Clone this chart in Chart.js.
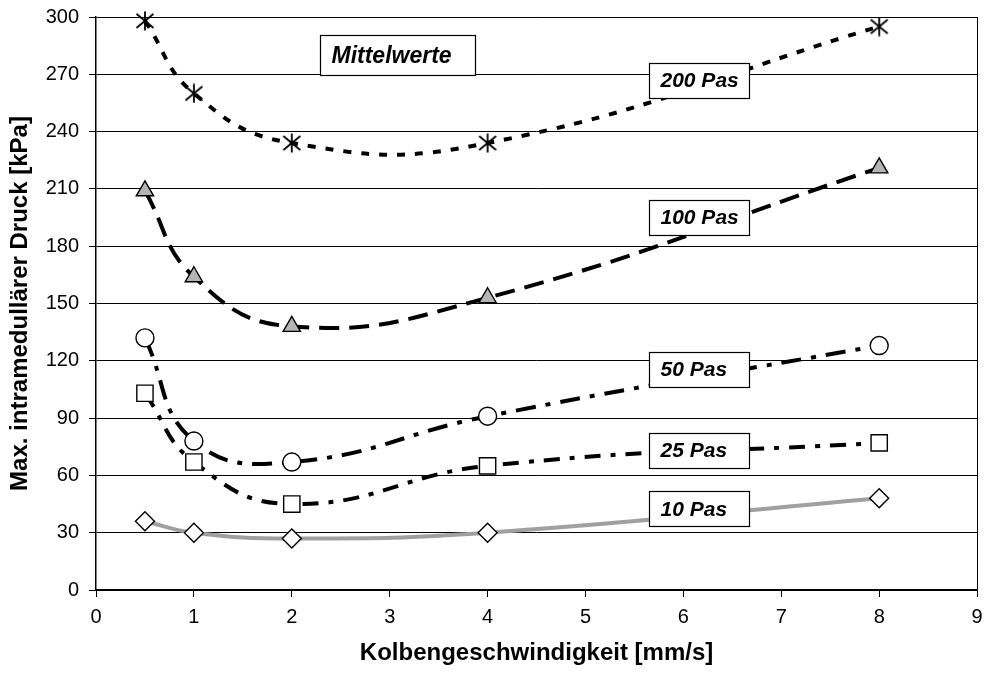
<!DOCTYPE html>
<html>
<head>
<meta charset="utf-8">
<script src="https://cdn.jsdelivr.net/npm/chart.js@4/dist/chart.umd.min.js"></script>
<style>
  html,body{margin:0;padding:0;background:#fff;}
  #wrap{width:990px;height:673px;position:relative;}
</style>
</head>
<body>
<div id="wrap"><canvas id="chart" width="990" height="673"></canvas></div>
<script>
(function(){
  // --- data ---
  const speeds = [0.5, 1, 2, 4, 8];
  const p200 = [298, 260, 234, 234, 295];
  const p100 = [209, 164, 138, 153, 221];
  const p50  = [132, 78, 67, 91, 128];
  const p25  = [103, 67, 45, 65, 77];
  const p10  = [36, 30, 27, 30, 48];
  const seriesNames = ['200 Pas', '100 Pas', '50 Pas', '25 Pas', '10 Pas'];
  const noteText = 'Mittelwerte';
  const yTicks = [0, 30, 60, 90, 120, 150, 180, 210, 240, 270, 300];
  const xTicks = [0, 1, 2, 3, 4, 5, 6, 7, 8, 9];

  const font = 'Arial, "Liberation Sans", sans-serif';
  const pts = arr => arr.map((v,i)=>({ x: speeds[i], y: v }));

  // asterisk marker
  function asterisk(){
    const c = document.createElement('canvas'); c.width = 20; c.height = 20;
    const g = c.getContext('2d'); g.strokeStyle = '#000'; g.lineWidth = 1.8;
    g.beginPath();
    g.moveTo(10,0.5); g.lineTo(10,19.5);
    g.moveTo(1.5,3); g.lineTo(18.5,17);
    g.moveTo(18.5,3); g.lineTo(1.5,17);
    g.stroke();
    return c;
  }

  const base = { showLine: true, tension: 0.45, fill: false, clip: false, pointBorderColor: '#000', pointBorderWidth: 1.4 };
  const datasets = [
    Object.assign({}, base, { label: seriesNames[0], data: pts(p200), borderColor: '#000', borderWidth: 4, borderDash: [8, 10],
      pointStyle: asterisk(), pointRadius: 10 }),
    Object.assign({}, base, { label: seriesNames[1], data: pts(p100), borderColor: '#000', borderWidth: 4, borderDash: [20, 10],
      pointStyle: 'triangle', pointRadius: 10, pointBackgroundColor: '#b4b4b4' }),
    Object.assign({}, base, { label: seriesNames[2], data: pts(p50), borderColor: '#000', borderWidth: 4, borderDash: [20, 10, 5, 10],
      pointStyle: 'circle', pointRadius: 9, pointBackgroundColor: '#fff' }),
    Object.assign({}, base, { label: seriesNames[3], data: pts(p25), borderColor: '#000', borderWidth: 4, borderDash: [16, 10, 5, 10],
      pointStyle: 'rect', pointRadius: 11.5, pointBackgroundColor: '#fff' }),
    Object.assign({}, base, { label: seriesNames[4], data: pts(p10), borderColor: '#a0a0a0', borderWidth: 4,
      pointStyle: 'rectRot', pointRadius: 9.5, pointBackgroundColor: '#fff' })
  ];

  // label boxes + outer frame
  const boxPlugin = {
    id: 'boxes',
    afterDatasetsDraw(chart){
      const ctx = chart.ctx, xs = chart.scales.x, ys = chart.scales.y, a = chart.chartArea;
      ctx.save();
      ctx.strokeStyle = '#000'; ctx.lineWidth = 1;
      ctx.beginPath(); ctx.moveTo(Math.round(a.right)+0.5, a.top); ctx.lineTo(Math.round(a.right)+0.5, a.bottom); ctx.stroke();
      function box(text, xv, yv, w, h, size){
        const cx = xs.getPixelForValue(xv), cy = ys.getPixelForValue(yv);
        const l = Math.round(cx - w/2)+0.5, t = Math.round(cy - h/2)+0.5;
        ctx.fillStyle = '#fff'; ctx.fillRect(l, t, w, h);
        ctx.strokeStyle = '#000'; ctx.lineWidth = 1.2; ctx.strokeRect(l, t, w, h);
        ctx.fillStyle = '#000'; ctx.font = 'italic bold ' + size + 'px ' + font;
        ctx.textAlign = 'left'; ctx.textBaseline = 'middle';
        ctx.fillText(text, l + 11, cy + 1);
      }
      box(noteText, 3.08, 280, 155, 40, 23);
      const ly = [267, 195, 115.5, 73, 42.5];
      seriesNames.forEach((n,i)=> box(n, 6.16, ly[i], 100, 35, 21));
      ctx.restore();
    }
  };

  new Chart(document.getElementById('chart').getContext('2d'), {
    type: 'scatter',
    data: { datasets },
    plugins: [boxPlugin],
    options: {
      responsive: false,
      animation: false,
      layout: { padding: { top: 17, right: -3, left: 0, bottom: 0 } },
      plugins: { legend: { display: false }, tooltip: { enabled: false } },
      scales: {
        x: {
          type: 'linear', min: 0, max: 9,
          afterBuildTicks: s => { s.ticks = xTicks.map(v=>({ value: v })); },
          afterFit: s => { s.height = 83; s.paddingLeft = 0; s.paddingRight = 0; },
          grid: { drawOnChartArea: false, drawTicks: true, tickLength: 7, color: '#000', lineWidth: 1 },
          border: { display: true, color: '#000', width: 1.5 },
          ticks: { color: '#000', font: { family: font, size: 20 }, padding: 8, maxRotation: 0 },
          title: { display: true, text: 'Kolbengeschwindigkeit [mm/s]', color: '#000',
            font: { family: font, size: 24, weight: 'bold' }, padding: { top: 4, bottom: 5 } }
        },
        y: {
          type: 'linear', min: 0, max: 300,
          afterBuildTicks: s => { s.ticks = yTicks.map(v=>({ value: v })); },
          afterFit: s => { s.width = 96; s.paddingTop = 0; s.paddingBottom = 0; },
          grid: { drawOnChartArea: true, drawTicks: true, tickLength: 7, color: '#000', lineWidth: 1 },
          border: { display: true, color: '#000', width: 1.5 },
          ticks: { color: '#000', font: { family: font, size: 20 }, padding: 10 },
          title: { display: true, text: 'Max. intramedullärer Druck [kPa]', color: '#000',
            font: { family: font, size: 24, weight: 'bold' }, padding: { top: 6, bottom: 4 } }
        }
      }
    }
  });
})();
</script>
</body>
</html>
